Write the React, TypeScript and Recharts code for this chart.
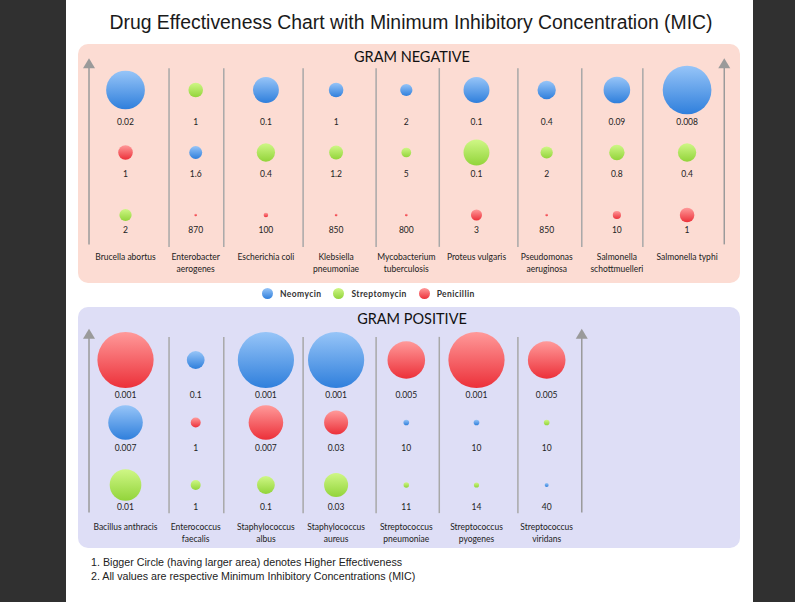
import { ReferenceLine, Scatter, ScatterChart, XAxis, YAxis, ZAxis } from "recharts"

const drugs = ["Neomycin", "Streptomycin", "Penicillin"]
// equal MIC values are stacked Neomycin, Penicillin, Streptomycin
const tieOrder = [0, 2, 1]

const negativeOrganisms = [
  "Brucella abortus",
  "Enterobacter\naerogenes",
  "Escherichia coli",
  "Klebsiella\npneumoniae",
  "Mycobacterium\ntuberculosis",
  "Proteus vulgaris",
  "Pseudomonas\naeruginosa",
  "Salmonella\nschottmuelleri",
  "Salmonella typhi",
]
const negativeNeomycin = [0.02, 1.6, 0.1, 1, 2, 0.1, 0.4, 0.09, 0.008]
const negativeStreptomycin = [2, 1, 0.4, 1.2, 5, 0.1, 2, 0.8, 0.4]
const negativePenicillin = [1, 870, 100, 850, 800, 3, 850, 10, 1]

const positiveOrganisms = [
  "Bacillus anthracis",
  "Enterococcus\nfaecalis",
  "Staphylococcus\nalbus",
  "Staphylococcus\naureus",
  "Streptococcus\npneumoniae",
  "Streptococcus\npyogenes",
  "Streptococcus\nviridans",
]
const positiveNeomycin = [0.007, 0.1, 0.001, 0.001, 10, 10, 40]
const positiveStreptomycin = [0.01, 1, 0.1, 0.03, 11, 14, 10]
const positivePenicillin = [0.001, 1, 0.007, 0.03, 0.005, 0.001, 0.005]

const notes = [
  "1. Bigger Circle (having larger area) denotes Higher Effectiveness",
  "2. All values are respective Minimum Inhibitory Concentrations (MIC)",
]

// column dividers, in column units
const dividers = [0.62, 1.4, 2.53, 3.57, 4.47, 5.59, 6.5, 7.37]

const gradients = [
  { top: "#97c5f8", bottom: "#2f7fdc", flat: "#4a90e2" },
  { top: "#cff786", bottom: "#92d43a", flat: "#a3dc4a" },
  { top: "#ff9a9a", bottom: "#ec3039", flat: "#f24a52" },
]

const labelFont = "Lato, 'Open Sans', sans-serif"

type Point = { x: number; y: number; z: number; mic: number }

function buildSeries(columns: number[][]): Point[][] {
  const series: Point[][] = columns.map(() => [])
  columns[0].forEach((_, i) => {
    const order = [0, 1, 2].sort(
      (a, b) => columns[a][i] - columns[b][i] || tieOrder[a] - tieOrder[b]
    )
    order.forEach((d, rank) => {
      const mic = columns[d][i]
      // effectiveness drawn as bubble area
      series[d].push({ x: i, y: rank, z: 1 / Math.sqrt(mic), mic })
    })
  })
  return series
}

function OrganismTick(props: any) {
  const { x, y, payload, names } = props
  const lines: string[] = (names[payload.value] || "").split("\n")
  return (
    <g>
      {lines.map((line, k) => (
        <text
          key={k}
          x={x}
          y={y + 11 + k * 11.5}
          textAnchor="middle"
          dominantBaseline="central"
          fontSize={8.5}
          fontFamily={labelFont}
          fill="#222"
        >
          {line}
        </text>
      ))}
    </g>
  )
}

function Arrow(props: any) {
  const { x1, y1, x2, y2 } = props
  const top = Math.min(y1, y2)
  const bottom = Math.max(y1, y2)
  return (
    <g>
      <line x1={x1} x2={x2} y1={bottom} y2={top + 9} stroke="#9a9a9a" strokeWidth={1.5} />
      <path d={`M${x1 - 6},${top + 10} L${x1},${top} L${x1 + 6},${top + 10} Z`} fill="#9a9a9a" />
    </g>
  )
}

type PanelProps = {
  id: string
  organisms: string[]
  columns: number[][]
  width: number
  height: number
  margin: { top: number; right: number; bottom: number; left: number }
  xMax: number
  axisHeight: number
  zMax: number
  areaMax: number
  labelOffsets: number[]
  arrowXs: number[]
  arrowSpan: [number, number]
  dividerCount: number
  dividerSpan: [number, number]
}

function Panel(p: PanelProps) {
  const series = buildSeries(p.columns)
  const bubble = (d: number) => (props: any) => {
    const { cx, cy, size, payload } = props
    const r = Math.sqrt(Math.max(size || 0, 0) / Math.PI)
    return (
      <g>
        <circle cx={cx} cy={cy} r={Math.max(r, 1)} fill={`url(#${p.id}-g${d})`} />
        <text
          x={cx}
          y={cy + p.labelOffsets[payload.y]}
          textAnchor="middle"
          dominantBaseline="central"
          fontSize={8.5}
          fontFamily={labelFont}
          fill="#222"
        >
          {payload.mic}
        </text>
      </g>
    )
  }
  return (
    <ScatterChart width={p.width} height={p.height} margin={p.margin}>
      <defs>
        {gradients.map((g, d) => (
          <linearGradient key={d} id={`${p.id}-g${d}`} x1="0" y1="0" x2="0" y2="1">
            <stop offset="0%" stopColor={g.top} />
            <stop offset="100%" stopColor={g.bottom} />
          </linearGradient>
        ))}
      </defs>
      <XAxis
        type="number"
        dataKey="x"
        domain={[-0.6, p.xMax]}
        ticks={p.organisms.map((_, i) => i)}
        interval={0}
        axisLine={false}
        tickLine={false}
        tickSize={0}
        tickMargin={0}
        height={p.axisHeight}
        tick={<OrganismTick names={p.organisms} />}
      />
      <YAxis type="number" dataKey="y" domain={[-0.5, 2.5]} reversed hide />
      <ZAxis type="number" dataKey="z" domain={[0, p.zMax]} range={[0, p.areaMax]} />
      {dividers.slice(0, p.dividerCount).map((x) => (
        <ReferenceLine
          key={x}
          segment={[
            { x, y: p.dividerSpan[0] },
            { x, y: p.dividerSpan[1] },
          ]}
          stroke="#a8a8a8"
          strokeWidth={1.5}
          ifOverflow="visible"
        />
      ))}
      {p.arrowXs.map((x) => (
        <ReferenceLine
          key={`a${x}`}
          segment={[
            { x, y: p.arrowSpan[0] },
            { x, y: p.arrowSpan[1] },
          ]}
          ifOverflow="visible"
          shape={(props: any) => <Arrow {...props} />}
        />
      ))}
      {series.map((data, d) => (
        <Scatter
          key={drugs[d]}
          name={drugs[d]}
          data={data}
          fill={gradients[d].flat}
          shape={bubble(d)}
          isAnimationActive={false}
        />
      ))}
    </ScatterChart>
  )
}

export default function App() {
  return (
    <div style={{ position: "absolute", left: 0, top: 0, width: 795, height: 602, background: "#303030", overflow: "hidden" }}>
      <div style={{ position: "absolute", left: 66, top: 0, width: 687, height: 602, background: "#ffffff" }} />
      <div
        style={{
          position: "absolute",
          left: 66,
          top: 10,
          width: 690,
          textAlign: "center",
          fontFamily: "'Liberation Sans Narrow', 'Liberation Sans', sans-serif",
          fontSize: 19.4,
          lineHeight: "24px",
          color: "#1a1a1a",
        }}
      >
        Drug Effectiveness Chart with Minimum Inhibitory Concentration (MIC)
      </div>

      <div style={{ position: "absolute", left: 78, top: 44, width: 662, height: 239, background: "#fcdcd3", borderRadius: 10 }} />
      <div style={{ position: "absolute", left: 78, top: 307, width: 662, height: 241, background: "#dedef6", borderRadius: 10 }} />

      <div style={{ position: "absolute", left: 262, top: 48, width: 300, textAlign: "center", fontFamily: labelFont, fontSize: 14.5, lineHeight: "17px", color: "#111" }}>
        GRAM NEGATIVE
      </div>
      <div style={{ position: "absolute", left: 262, top: 310, width: 300, textAlign: "center", fontFamily: labelFont, fontSize: 14.5, lineHeight: "17px", color: "#111" }}>
        GRAM POSITIVE
      </div>

      <div style={{ position: "absolute", left: 78, top: 44 }}>
        <Panel
          id="neg"
          organisms={negativeOrganisms}
          columns={[negativeNeomycin, negativeStreptomycin, negativePenicillin]}
          width={662}
          height={239}
          margin={{ top: 14.75, right: 8, bottom: 0, left: 5.4 }}
          xMax={8.64}
          axisHeight={36.75}
          zMax={12}
          areaMax={2000}
          labelOffsets={[32, 21, 15]}
          arrowXs={[-0.52, 8.53]}
          arrowSpan={[-0.51, 2.47]}
          dividerCount={8}
          dividerSpan={[-0.35, 2.51]}
        />
      </div>

      <div style={{ position: "absolute", left: 262, top: 288, display: "flex", alignItems: "center", fontFamily: labelFont, fontSize: 8.5, fontWeight: 700, letterSpacing: 0.4, color: "#333" }}>
        {drugs.map((name, d) => (
          <div key={name} style={{ display: "flex", alignItems: "center", marginRight: 12 }}>
            <span
              style={{
                display: "inline-block",
                width: 11,
                height: 11,
                borderRadius: "50%",
                marginRight: 7,
                background: `linear-gradient(${gradients[d].top}, ${gradients[d].bottom})`,
              }}
            />
            {name}
          </div>
        ))}
      </div>

      <div style={{ position: "absolute", left: 78, top: 307 }}>
        <Panel
          id="pos"
          organisms={positiveOrganisms}
          columns={[positiveNeomycin, positiveStreptomycin, positivePenicillin]}
          width={662}
          height={241}
          margin={{ top: 21.75, right: 151.2, bottom: 0, left: 5.4 }}
          xMax={6.6}
          axisHeight={31.75}
          zMax={32}
          areaMax={2513}
          labelOffsets={[35, 25, 22]}
          arrowXs={[-0.52, 6.5]}
          arrowSpan={[-0.5, 2.44]}
          dividerCount={6}
          dividerSpan={[-0.37, 2.45]}
        />
      </div>

      <div style={{ position: "absolute", left: 91, top: 556, fontFamily: "'Liberation Sans', Arial, sans-serif", fontSize: 10.7, lineHeight: "13.5px", color: "#222" }}>
        {notes.map((n) => (
          <div key={n}>{n}</div>
        ))}
      </div>
    </div>
  )
}
